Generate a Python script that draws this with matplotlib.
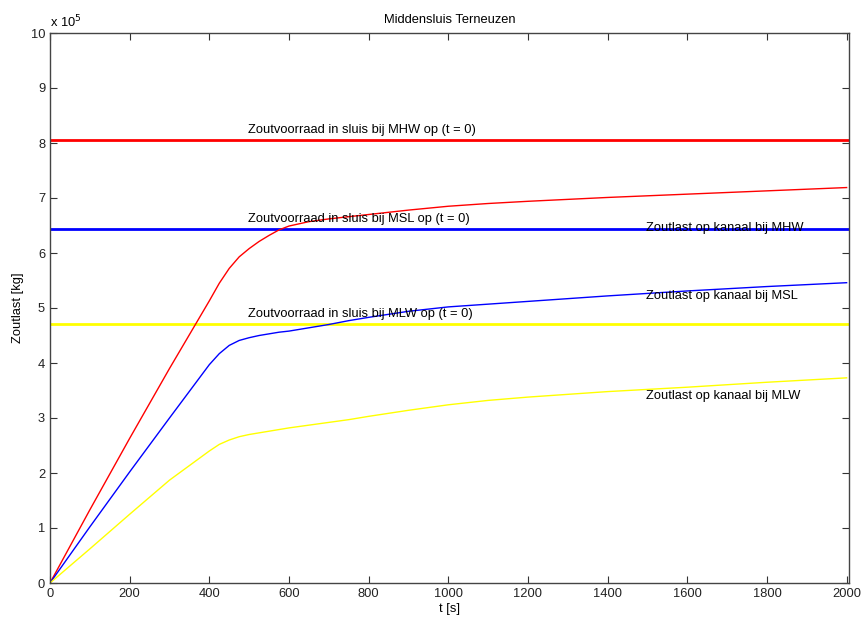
import matplotlib
matplotlib.use("Agg")
import matplotlib.pyplot as plt
import numpy as np

plt.rcParams['font.family'] = ['Liberation Sans', 'DejaVu Sans']

# time [s]
t = [0, 100, 200, 300, 400, 425, 450, 475, 500, 525, 550, 575, 600, 650, 700, 750, 800, 900, 1000, 1100, 1200, 1400, 1600, 1800, 2000]
# salt load on canal (x 10^5 kg)
load_mhw = [0, 1.33, 2.63, 3.9, 5.13, 5.45, 5.72, 5.93, 6.08, 6.21, 6.32, 6.42, 6.49, 6.57, 6.62, 6.66, 6.70, 6.78, 6.85, 6.90, 6.94, 7.01, 7.07, 7.13, 7.19]
load_msl = [0, 1.02, 2.02, 3.0, 3.97, 4.17, 4.32, 4.41, 4.46, 4.50, 4.53, 4.56, 4.58, 4.64, 4.70, 4.77, 4.83, 4.94, 5.02, 5.07, 5.12, 5.22, 5.31, 5.39, 5.46]
load_mlw = [0, 0.62, 1.25, 1.87, 2.40, 2.52, 2.60, 2.66, 2.70, 2.73, 2.76, 2.79, 2.82, 2.87, 2.92, 2.97, 3.03, 3.14, 3.24, 3.32, 3.38, 3.48, 3.56, 3.65, 3.73]
# salt stock in lock at t = 0 (x 10^5 kg)
stock_mhw = 8.05
stock_msl = 6.44
stock_mlw = 4.71

fig = plt.figure(figsize=(8.62, 6.23), dpi=100)
ax = fig.add_axes([50/862, 40/623, 799/862, 550/623])

ax.axhline(stock_mhw, color=(1, 0, 0), lw=2)
ax.axhline(stock_msl, color=(0, 0, 1), lw=2)
ax.axhline(stock_mlw, color=(1, 1, 0), lw=2)
ax.plot(t, load_mhw, color=(1, 0, 0), lw=1)
ax.plot(t, load_msl, color=(0, 0, 1), lw=1)
ax.plot(t, load_mlw, color=(1, 1, 0), lw=1)

fs = 9.3
ax.text(497, stock_mhw + 0.07, 'Zoutvoorraad in sluis bij MHW op (t = 0)', fontsize=fs, va='bottom')
ax.text(497, stock_msl + 0.07, 'Zoutvoorraad in sluis bij MSL op (t = 0)', fontsize=fs, va='bottom')
ax.text(497, stock_mlw + 0.07, 'Zoutvoorraad in sluis bij MLW op (t = 0)', fontsize=fs, va='bottom')
ax.text(1497, 6.45, 'Zoutlast op kanaal bij MHW', fontsize=fs, va='center')
ax.text(1497, 5.22, 'Zoutlast op kanaal bij MSL', fontsize=fs, va='center')
ax.text(1497, 3.40, 'Zoutlast op kanaal bij MLW', fontsize=fs, va='center')

ax.set_xlim(0, 2006)
ax.set_ylim(0, 10)
ax.set_xticks(np.arange(0, 2001, 200))
ax.set_yticks(np.arange(0, 11, 1))
ax.tick_params(direction='in', top=True, right=True, labelsize=fs, length=5, colors='#333333', labelcolor='#222222')
for s in ax.spines.values():
    s.set_color('#444444')
    s.set_linewidth(1)

ax.set_title('Middensluis Terneuzen', fontsize=fs, pad=7)
ax.set_xlabel('t [s]', fontsize=fs, labelpad=2)
ax.set_ylabel('Zoutlast [kg]', fontsize=fs, labelpad=5)
ax.text(0.0, 1.005, r'x 10$^5$', transform=ax.transAxes, fontsize=fs, va='bottom', ha='left')

fig.savefig('out.png', dpi=100)
